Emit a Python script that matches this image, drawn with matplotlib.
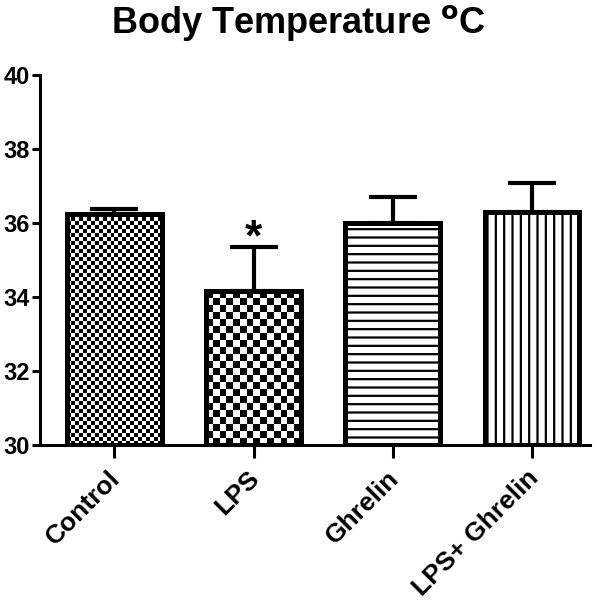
import numpy as np
import matplotlib
matplotlib.use("Agg")
import matplotlib.pyplot as plt
import matplotlib.transforms as mtransforms

plt.rcParams['font.family'] = ['Liberation Sans', 'DejaVu Sans']
plt.rcParams['font.weight'] = 'bold'
plt.rcParams['hatch.linewidth'] = 1.6
plt.rcParams['hatch.color'] = 'black'

groups = ['Control', 'LPS', 'Ghrelin', 'LPS+ Ghrelin']
means = [36.25, 34.15, 36.0, 36.3]
sems = [0.12, 1.2, 0.7, 0.78]
hatches = [None, None, '--', '||']
checker_px = [4, 7, None, None]   # cell size of checkerboard fill, pixels

fig = plt.figure(figsize=(6.0, 6.03), dpi=100)
ax = fig.add_axes([0.066, 0.262, 0.917, 0.614])

x = np.arange(len(groups))
width = 0.68

ax.errorbar(x, means, yerr=[np.zeros(len(sems)), sems], fmt='none',
            ecolor='black', elinewidth=3, capsize=17, capthick=3, zorder=1.5)

bars = ax.bar(x, [m - 30 for m in means], width, bottom=30, color='white',
              edgecolor='black', linewidth=0, zorder=2)
for b, h in zip(bars, hatches):
    if h:
        b.set_hatch(h)

ax.set_xlim(-0.536, 3.414)
ax.set_ylim(30, 40)

# checkerboard fills
fig.canvas.draw()
for b, cell in zip(bars, checker_px):
    if cell is None:
        continue
    x0, y0 = b.get_x(), b.get_y()
    x1, y1 = x0 + b.get_width(), y0 + b.get_height()
    p0 = ax.transData.transform((x0, y0))
    p1 = ax.transData.transform((x1, y1))
    nx = max(1, int(round((p1[0] - p0[0]) / cell)))
    ny = max(1, int(round((p1[1] - p0[1]) / cell)))
    board = (np.indices((ny, nx)).sum(axis=0) % 2).astype(float)
    im = ax.imshow(board, cmap='gray', interpolation='nearest', aspect='auto',
                   extent=(x0, x1, y0, y1), zorder=2.1, vmin=0, vmax=1)
    im.set_clip_path(b)

# outlines on top
ax.bar(x, [m - 30 for m in means], width, bottom=30, fill=False,
       edgecolor='black', linewidth=3.6, zorder=3)

ax.set_xlim(-0.536, 3.414)
ax.set_ylim(30, 40)

ax.text(x[1], means[1] + sems[1] + 0.22, '*', ha='center', va='center',
        fontsize=32, fontweight='bold')

for s in ['top', 'right']:
    ax.spines[s].set_visible(False)
for s in ['left', 'bottom']:
    ax.spines[s].set_linewidth(2.2)

ax.set_yticks(np.arange(30, 41, 2))
ax.set_xticks(x)
ax.set_xticklabels(groups, rotation=45, ha='right', rotation_mode='anchor')
ax.tick_params(axis='both', width=2.2)
ax.tick_params(axis='y', length=6, pad=1, labelsize=17)
ax.tick_params(axis='x', length=9, pad=6, labelsize=19)
shift = mtransforms.ScaledTranslation(-6 / 100, 0, fig.dpi_scale_trans)
for lab in ax.get_xticklabels():
    lab.set_transform(lab.get_transform() + shift)

fig.text(0.497, 0.962, 'Body Temperature $^{\\mathbf{o}}$C', ha='center', va='center',
         fontsize=26, fontweight='bold')

fig.savefig('out.png', dpi=100)
